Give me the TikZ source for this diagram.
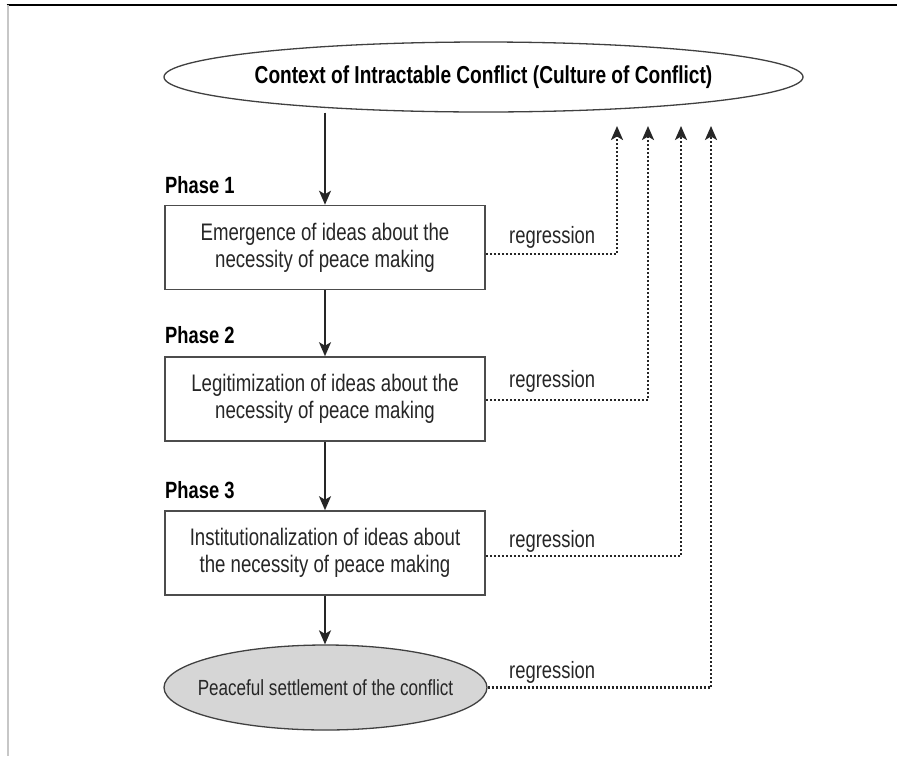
\documentclass[tikz,border=0pt]{standalone}
\usepackage{fontspec}
\setmainfont[FakeStretch=0.78]{Liberation Sans}
\usetikzlibrary{shapes.geometric,arrows.meta}
\begin{document}
\begin{tikzpicture}[x=1pt,y=-1pt,
  phasebox/.style={draw=black!70,line width=1.6pt,minimum width=320pt,minimum height=84pt,
    align=center,inner sep=0pt,font=\fontsize{23.9}{27}\selectfont,text=black!85},
  ovalshape/.style={ellipse,draw=black!75,line width=1.3pt,inner sep=0pt},
  phaselabel/.style={anchor=west,inner sep=0pt,font=\fontsize{23.5}{27}\selectfont\bfseries},
  reglabel/.style={anchor=west,inner sep=0pt,font=\fontsize{23.6}{27}\selectfont,text=black!85},
  mainarrow/.style={draw=black!85,line width=1.8pt,-{Stealth[length=14pt,width=12pt,inset=3.5pt]}},
  regarrow/.style={draw=black!85,line width=2.3pt,dash pattern=on 2pt off 2pt,
    -{Stealth[length=14pt,width=12pt,inset=3.5pt]}}
]
\useasboundingbox (0,0) rectangle (897,756);
\fill[white] (0,0) rectangle (897,756);
% frame
\draw[black,line width=2pt] (6.5,4.5) -- (897,4.5);
\draw[black!22,line width=2pt] (7.5,5) -- (7.5,756);

% top ellipse
\node[ovalshape,minimum width=639pt,minimum height=70pt] (ctx) at (483.5,77) {};
\node[inner sep=0pt,font=\fontsize{24.5}{27}\selectfont\bfseries] (ctxtext) at (ctx) {Context of Intractable Conflict (Culture of Conflict)};

% phases
\node[phaselabel] (ph1) at (165,185) {Phase 1};
\node[phasebox] (b1) at (325,247.5) {Emergence of ideas about the\\necessity of peace making};
\node[phaselabel] (ph2) at (165,335) {Phase 2};
\node[phasebox] (b2) at (325,399) {Legitimization of ideas about the\\necessity of peace making};
\node[phaselabel] (ph3) at (165,490) {Phase 3};
\node[phasebox] (b3) at (325,553) {Institutionalization of ideas about\\the necessity of peace making};

% bottom ellipse
\node[ovalshape,fill=black!16,minimum width=323pt,minimum height=85pt] (peace) at (325.5,687.5) {};
\node[inner sep=0pt,font=\fontsize{21.9}{27}\selectfont,text=black!85] (peacetext) at (peace) {Peaceful settlement of the conflict};

% main arrows
\draw[mainarrow] (b1.north |- ctx.south) -- (b1.north);
\draw[mainarrow] (b1.south) -- (b2.north);
\draw[mainarrow] (b2.south) -- (b3.north);
\draw[mainarrow] (b3.south) -- (peace.north -| b3.south);

% regression targets
\coordinate (t1) at (617,126);
\coordinate (t2) at (648,126);
\coordinate (t3) at (681,126);
\coordinate (t4) at (711,126);

\draw[regarrow] ([yshift=-6.5pt]b1.east) -| (t1);
\draw[regarrow] ([yshift=-1pt]b2.east) -| (t2);
\draw[regarrow] ([yshift=-3pt]b3.east) -| (t3);
\draw[regarrow] (peace.east) -| (t4);

\node[reglabel] (r1) at (509,237) {regression};
\node[reglabel] (r2) at (509,381) {regression};
\node[reglabel] (r3) at (509,541) {regression};
\node[reglabel] (r4) at (509,672) {regression};
\end{tikzpicture}
\end{document}
